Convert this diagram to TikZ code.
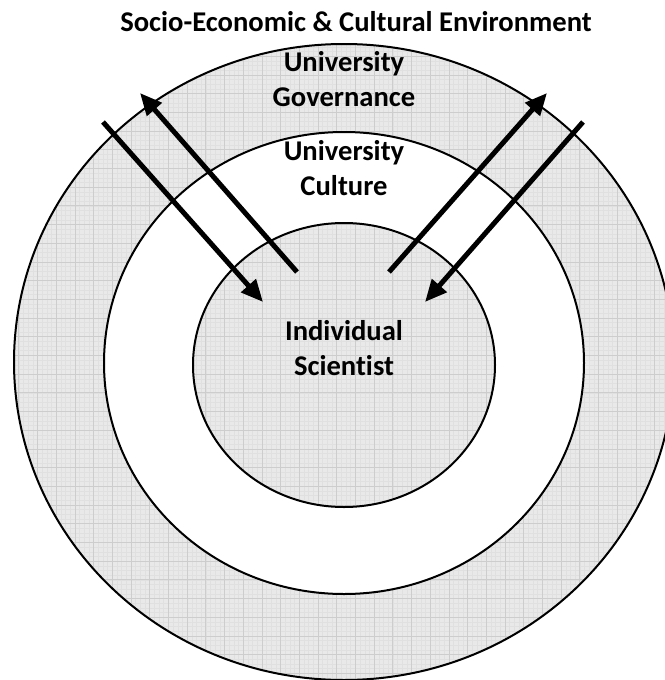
\documentclass[tikz,border=0pt]{standalone}
\usepackage{fontspec}
\setmainfont{Carlito}[Ligatures=NoCommon]
\usetikzlibrary{arrows.meta}
\definecolor{ringfill}{RGB}{233,233,233}
\definecolor{gridmajor}{RGB}{205,205,205}
\definecolor{gridminor}{RGB}{224,224,224}
\begin{document}
\begin{tikzpicture}[x=1pt,y=-1pt,
  lbl/.style={font=\fontsize{28.6}{34.3}\selectfont\bfseries, align=center, inner sep=0pt, anchor=base},
  ring/.style={draw=black, line width=2pt},
  flow/.style={line width=5pt, -{Triangle[length=22pt,width=19pt]}},
  minorgrid/.style={draw=gridminor, line width=0.3pt},
  majorgrid/.style={draw=gridmajor, line width=0.5pt}
  ]
\useasboundingbox (0,0) rectangle (664,680);
% outer ring area
\fill[ringfill] (344,362) ellipse [x radius=330pt, y radius=318pt];
\begin{scope}
  \clip (344,362) ellipse [x radius=330pt, y radius=318pt];
  \draw[minorgrid, step=4.675pt] (0,0) grid (680,690);
  \draw[majorgrid, step=18.7pt] (0,0) grid (680,690);
\end{scope}
% middle (white)
\fill[white] (344,363) ellipse [x radius=240pt, y radius=231pt];
% inner
\fill[ringfill] (344,365) ellipse [x radius=151pt, y radius=142pt];
\begin{scope}
  \clip (344,365) ellipse [x radius=151pt, y radius=142pt];
  \draw[minorgrid, step=4.675pt] (0,0) grid (680,690);
  \draw[majorgrid, step=18.7pt] (0,0) grid (680,690);
\end{scope}
% outlines
\draw[ring] (344,362) ellipse [x radius=330pt, y radius=318pt];
\draw[ring] (344,363) ellipse [x radius=240pt, y radius=231pt];
\draw[ring] (344,365) ellipse [x radius=151pt, y radius=142pt];
% labels (base anchor = baseline of the last line)
\node[lbl] (title) at (356,31.7) {Socio-Economic \& Cultural Environment};
\node[lbl] (gov) at (344,106) {University\\Governance};
\node[lbl] (cult) at (344,195) {University\\Culture};
\node[lbl] (sci) at (344,375) {Individual\\Scientist};
% arrows
\coordinate (ulS) at (297,272);
\coordinate (ulE) at (140,93);
\coordinate (urS) at (389,272);
\coordinate (urE) at (547,93);
\coordinate (dlS) at (103,122);
\coordinate (dlE) at (263,302);
\coordinate (drS) at (583,122);
\coordinate (drE) at (425,302);
\draw[flow] (ulS) -- (ulE);
\draw[flow] (urS) -- (urE);
\draw[flow] (dlS) -- (dlE);
\draw[flow] (drS) -- (drE);
\end{tikzpicture}
\end{document}
